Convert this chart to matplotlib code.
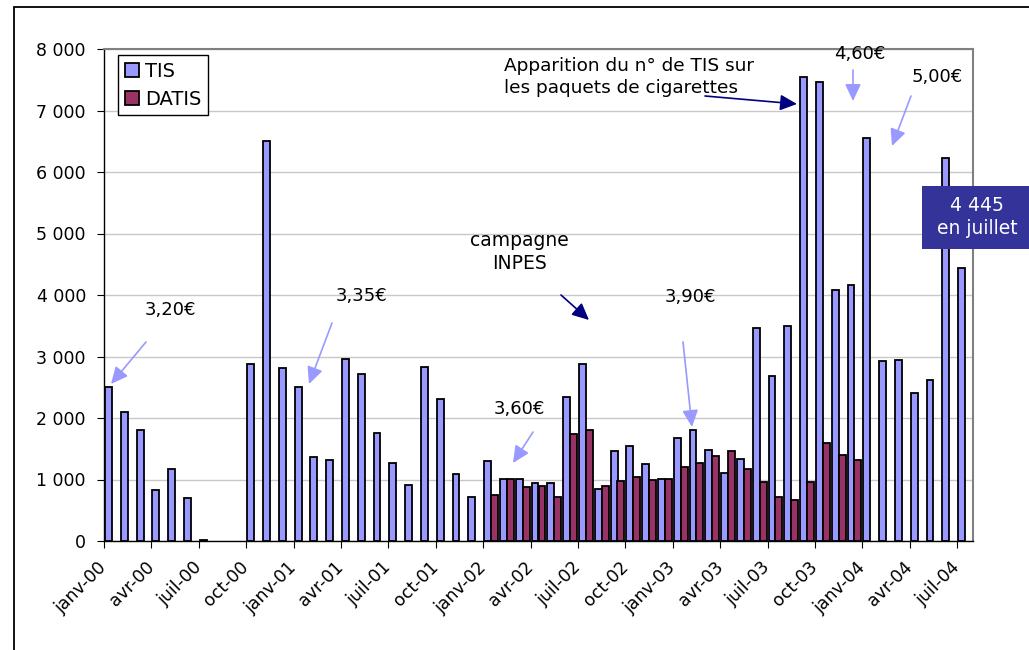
import numpy as np
import matplotlib.pyplot as plt
from matplotlib.patches import Rectangle

W, H = 1029, 650

# mois de janv-00 a juil-04
mois = ['janv', 'févr', 'mars', 'avr', 'mai', 'juin',
        'juil', 'août', 'sept', 'oct', 'nov', 'déc']
labels = [f"{mois[i % 12]}-{i // 12:02d}" for i in range(55)]

tis = [2510, 2090, 1810, 825, 1170, 695, 20, 0, 0, 2875,
       6510, 2810, 2510, 1370, 1320, 2955, 2715, 1750, 1275, 905,
       2825, 2310, 1085, 715, 1300, 1005, 1005, 950, 950, 2340,
       2880, 840, 1470, 1550, 1255, 1005, 1675, 1805, 1480, 1100,
       1330, 3460, 2675, 3500, 7540, 7465, 4075, 4165, 6560, 2920,
       2935, 2400, 2620, 6235, 4445]

# DATIS : janv-02 a déc-03
datis_debut = 24
datis = [750, 1005, 885, 900, 720, 1735, 1805, 900, 980, 1045, 990, 1005,
         1205, 1275, 1385, 1470, 1175, 965, 720, 660, 955, 1600, 1400, 1320]

# annotations de prix : texte, position du texte, depart et pointe de la fleche (pixels)
prix = [
    ('3,20€', (170, 310), (146, 342), (111, 384)),
    ('3,35€', (362, 296), (332, 323), (309, 384)),
    ('3,60€', (519, 409), (533, 432), (513, 463)),
    ('3,90€', (690, 297), (683, 342), (692, 427)),
    ('4,60€', (860, 54), (853, 70), (853, 101)),
    ('5,00€', (937, 77), (911, 96), (892, 146)),
]


def fp(x, y):
    # pixels (origine en haut a gauche) -> fraction de figure
    return (x / W, 1 - y / H)


fig = plt.figure(figsize=(W / 100, H / 100), dpi=100)
ax = fig.add_axes([104 / W, 1 - 541 / H, (973 - 104) / W, (541 - 49) / H])

x = np.arange(len(tis))
# pas de barre pour les mois a zero
tis_h = np.array(tis, dtype=float)
tis_h[tis_h == 0] = np.nan
ax.bar(x + 0.06, tis_h, width=0.44, align='edge', color='#9999FF',
       edgecolor='black', linewidth=1.3, label='TIS', zorder=3)
xd = np.arange(datis_debut, datis_debut + len(datis))
ax.bar(xd + 0.5, datis, width=0.44, align='edge', color='#993366',
       edgecolor='black', linewidth=1.3, label='DATIS', zorder=3)

ax.set_xlim(0, len(tis))
ax.set_ylim(0, 8000)
ax.set_xticks(x[::3])
ax.set_xticklabels(labels[::3], rotation=45, ha='right', va='center',
                   rotation_mode='anchor')
ax.set_yticks(range(0, 8001, 1000))
ax.set_yticklabels([f"{v:,}".replace(',', ' ') for v in range(0, 8001, 1000)])
ax.tick_params(axis='both', direction='out', length=5, labelsize=12.5)
ax.tick_params(axis='x', pad=12)
ax.tick_params(axis='y', pad=8)

ax.yaxis.grid(True, color='#c8c8c8', lw=1)
ax.set_axisbelow(True)
for s in ['top', 'right']:
    ax.spines[s].set_color('#808080')
    ax.spines[s].set_linewidth(1.5)
for s in ['left', 'bottom']:
    ax.spines[s].set_color('black')
    ax.spines[s].set_linewidth(1)

leg = ax.legend(loc='upper left', bbox_to_anchor=fp(118, 55),
                bbox_transform=fig.transFigure, fancybox=False,
                edgecolor='black', borderaxespad=0, handlelength=0.75,
                handleheight=0.75, handletextpad=0.3, labelspacing=0.45,
                borderpad=0.35, fontsize=14, framealpha=1)
leg.get_frame().set_linewidth(1)

light = '#9999FF'
navy = '#000080'
tete = '-|>,head_length=0.85,head_width=0.4'

for txt, pos, dep, fin in prix:
    fig.text(*fp(*pos), txt, ha='center', va='center', fontsize=13)
    ax.annotate('', xy=fp(*fin), xytext=fp(*dep), xycoords='figure fraction',
                textcoords='figure fraction', annotation_clip=False,
                arrowprops=dict(arrowstyle=tete, color=light, lw=1.2,
                                mutation_scale=12, shrinkA=0, shrinkB=0))

fig.text(*fp(519, 252), 'campagne\nINPES', ha='center', va='center',
         fontsize=13.5, linespacing=1.3)
ax.annotate('', xy=fp(589, 320), xytext=fp(561, 295), xycoords='figure fraction',
            textcoords='figure fraction', annotation_clip=False,
            arrowprops=dict(arrowstyle=tete, color=navy, lw=1.2,
                            mutation_scale=12, shrinkA=0, shrinkB=0))

fig.text(*fp(504, 77), 'Apparition du n° de TIS sur\nles paquets de cigarettes',
         ha='left', va='center', fontsize=13.3, linespacing=1.35)
ax.annotate('', xy=fp(797, 104), xytext=fp(705, 96), xycoords='figure fraction',
            textcoords='figure fraction', annotation_clip=False,
            arrowprops=dict(arrowstyle=tete, color=navy, lw=1.2,
                            mutation_scale=12, shrinkA=0, shrinkB=0))

# encadre juillet
fig.add_artist(Rectangle(fp(922, 249), (1040 - 922) / W, 63 / H,
                         transform=fig.transFigure, fc='#333399', ec='none'))
fig.text(*fp(977, 217), '4 445\nen juillet', ha='center', va='center',
         color='white', fontsize=13.5, linespacing=1.25)

# cadre de la figure
fig.add_artist(Rectangle(fp(14, 700), 1.1, (700 - 7) / H,
                         transform=fig.transFigure, fill=False,
                         ec='black', lw=1.3))

fig.savefig('out.png', dpi=100)
